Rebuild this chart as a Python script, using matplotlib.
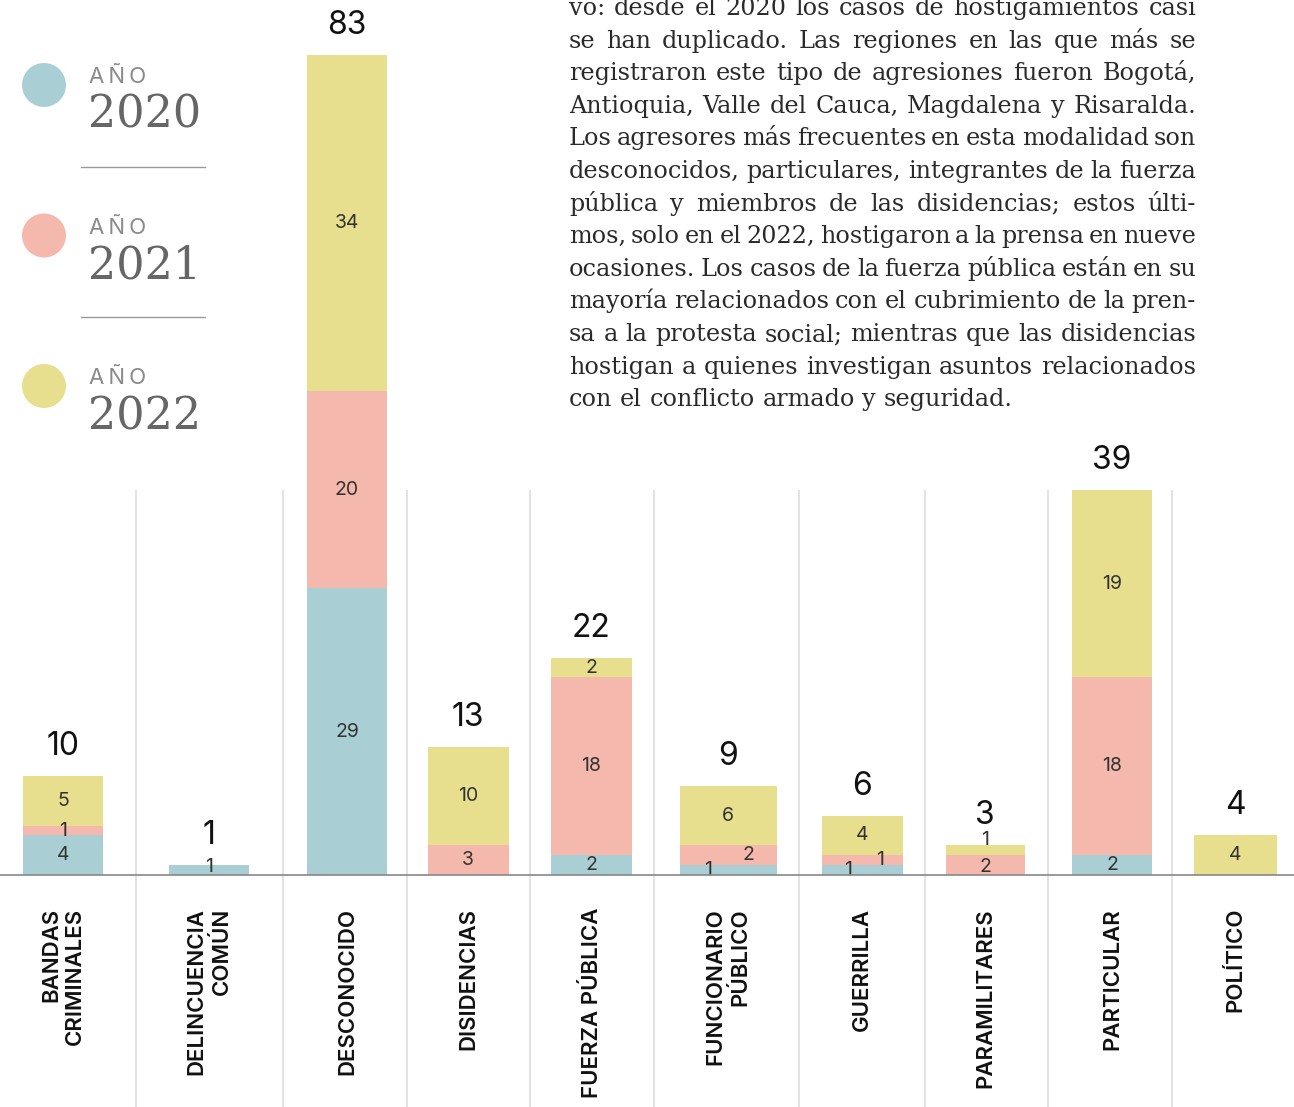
import matplotlib
matplotlib.use("Agg")
import matplotlib.pyplot as plt
from matplotlib.patches import Circle
from matplotlib.transforms import IdentityTransform
import numpy as np

# datos: agresores en casos de hostigamiento por año
categorias = ["BANDAS\nCRIMINALES", "DELINCUENCIA\nCOMÚN", "DESCONOCIDO", "DISIDENCIAS",
              "FUERZA PÚBLICA", "FUNCIONARIO\nPÚBLICO", "GUERRILLA", "PARAMILITARES",
              "PARTICULAR", "POLÍTICO"]
anios = ["2020", "2021", "2022"]
casos_2020 = [4, 1, 29, 0, 2, 1, 1, 0, 2, 0]
casos_2021 = [1, 0, 20, 3, 18, 2, 1, 2, 18, 0]
casos_2022 = [5, 0, 34, 10, 2, 6, 4, 1, 19, 4]

texto = [
    "vo: desde el 2020 los casos de hostigamientos casi",
    "se han duplicado. Las regiones en las que más se",
    "registraron este tipo de agresiones fueron Bogotá,",
    "Antioquia, Valle del Cauca, Magdalena y Risaralda.",
    "Los agresores más frecuentes en esta modalidad son",
    "desconocidos, particulares, integrantes de la fuerza",
    "pública y miembros de las disidencias; estos últi-",
    "mos, solo en el 2022, hostigaron a la prensa en nueve",
    "ocasiones. Los casos de la fuerza pública están en su",
    "mayoría relacionados con el cubrimiento de la pren-",
    "sa a la protesta social; mientras que las disidencias",
    "hostigan a quienes investigan asuntos relacionados",
    "con el conflicto armado y seguridad.",
]

# maquetación (px)
colores = ["#a9cfd5", "#f5b8ad", "#e8df8e"]
centros = [63, 209, 347, 468, 591, 728, 862, 985, 1112, 1235]
anchos_barra = [80, 80, 80, 81, 81, 97, 81, 79, 80, 83]
separadores = [136, 283, 407, 530, 654, 799, 925, 1048, 1172]
W, H = 1294, 1107
SANS = ["Inter", "DejaVu Sans"]
SERIF = ["DejaVu Serif"]

# desplazamiento (px) de algunas etiquetas pequeñas
desplaz = {(5, 0): (-20, 0), (5, 1): (20, 0), (6, 0): (-14, 0), (6, 1): (18, 0),
           (7, 2): (0, 10), (7, 1): (0, -2), (1, 0): (0, 3)}

fig = plt.figure(figsize=(W / 100, H / 100), dpi=100)
fig.patch.set_facecolor("white")

def fx(x):
    return x / W

def fy(y):
    return 1 - y / H

# ejes que ocupan toda la figura; línea base a 875 px desde arriba
escala = 9.88  # px por caso
ax = fig.add_axes([0, 0, 1, 1])
ax.set_xlim(0, W)
ax.set_ylim(-(H - 875) / escala, 875 / escala)
ax.axis("off")

x = np.array(centros)
series = [casos_2020, casos_2021, casos_2022]
base = np.zeros(len(categorias))
for s, (vals, col) in enumerate(zip(series, colores)):
    vals = np.array(vals, dtype=float)
    ax.bar(x, vals, anchos_barra, bottom=base, color=col, linewidth=0, zorder=2)
    for i, v in enumerate(vals):
        if v > 0:
            ax.annotate(f"{int(v)}", (x[i], base[i] + v / 2), xytext=desplaz.get((i, s), (0, 0)),
                        textcoords="offset pixels", ha="center", va="center",
                        fontsize=14, color="#333333", family=SANS, zorder=3)
    base += vals

totales = base
for i, t in enumerate(totales):
    ax.annotate(f"{int(t)}", (x[i], t), xytext=(0, 14), textcoords="offset pixels",
                ha="center", va="bottom", fontsize=23, color="#111111", family=SANS)

# separadores y línea base
sep_top = (875 - 490) / escala
ax.vlines(separadores, ax.get_ylim()[0], sep_top, color="#dddddd", lw=1.2, zorder=1)
ax.axhline(0, color="#888888", lw=1.2, zorder=4)

for i, c in enumerate(categorias):
    ax.annotate(c, (x[i], 0), xytext=(0, -33), textcoords="offset pixels", rotation=90,
                ha="center", va="top", multialignment="right", linespacing=1.25,
                fontsize=16, fontweight="semibold", color="#111111", family=SANS)

# leyenda
for k, (anio, col) in enumerate(zip(anios, colores)):
    cy = 85 + 150.5 * k
    fig.add_artist(Circle((44, H - cy), 22, transform=IdentityTransform(), color=col, lw=0))
    fig.text(fx(89), fy(cy - 2), "A\u2009Ñ\u2009O", fontsize=16, color="#8a8a8a", family=SANS,
             va="baseline", ha="left")
    fig.text(fx(88), fy(cy + 43), anio, fontsize=32, color="#666666",
             family=SERIF, va="baseline", ha="left")
for yl in [166.5, 317]:
    fig.add_artist(plt.Line2D([fx(81), fx(205)], [fy(yl), fy(yl)], color="#999999", lw=1))

# párrafo justificado
renderer = fig.canvas.get_renderer()
x0, x1 = 569, 1196
fs = 17.2
for n, linea in enumerate(texto):
    yb = 15 + 32.6 * n
    palabras = linea.split(" ")
    objs = [fig.text(0, 0, p, fontsize=fs, color="#2a2a2a", family=SERIF, va="baseline")
            for p in palabras]
    anchos = [o.get_window_extent(renderer).width for o in objs]
    if n == len(texto) - 1:
        t1 = fig.text(0, 0, "a a", fontsize=fs, family=SERIF)
        t2 = fig.text(0, 0, "aa", fontsize=fs, family=SERIF)
        esp = t1.get_window_extent(renderer).width - t2.get_window_extent(renderer).width
        t1.remove()
        t2.remove()
    else:
        esp = (x1 - x0 - sum(anchos)) / (len(palabras) - 1)
    xc = x0
    for o, w in zip(objs, anchos):
        o.set_position((fx(xc), fy(yb)))
        xc += w + esp

fig.savefig("out.png", dpi=100)
